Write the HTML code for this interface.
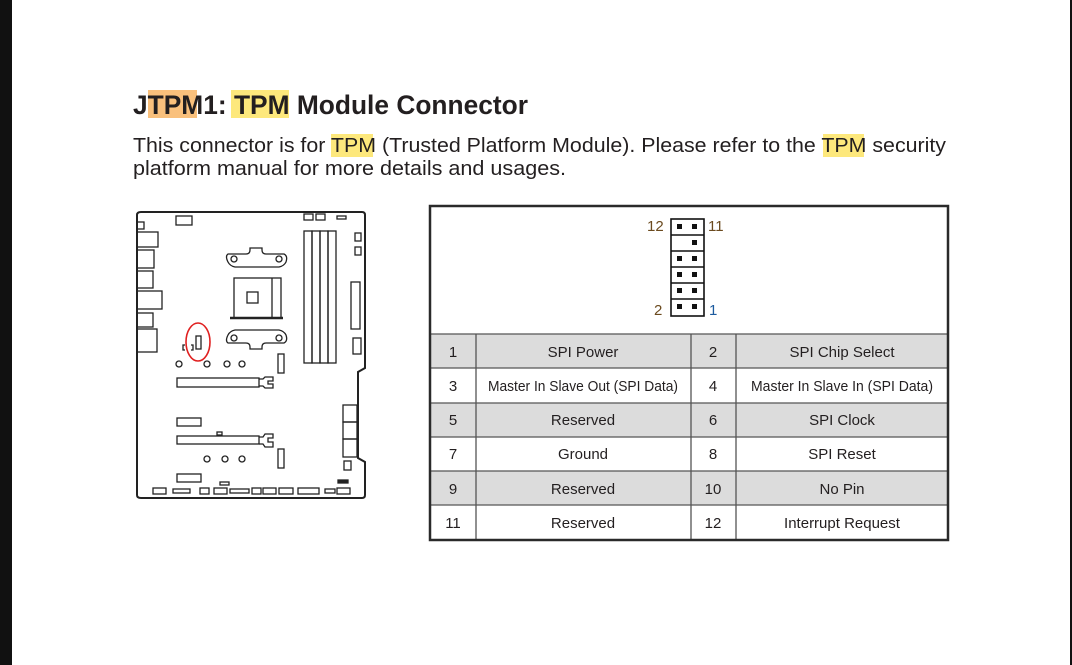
<!DOCTYPE html>
<html><head><meta charset="utf-8"><style>
html,body{margin:0;padding:0;background:#fff;width:1072px;height:665px;overflow:hidden}
svg{display:block}
text{font-family:"Liberation Sans",sans-serif;fill:#231f20}
</style></head><body>
<svg width="1072" height="665" viewBox="0 0 1072 665" xmlns="http://www.w3.org/2000/svg">
<rect x="0" y="0" width="12" height="665" fill="#111"/>
<rect x="1070" y="0" width="2" height="665" fill="#111"/>
<!-- highlights -->
<rect x="148" y="90" width="49" height="28" fill="#f9c07c"/>
<rect x="231" y="90" width="58" height="28" fill="#fde87c"/>
<rect x="331" y="134" width="42" height="23" fill="#fde87c"/>
<rect x="823" y="134" width="41" height="23" fill="#fde87c"/>
<text x="133" y="114" font-size="27" font-weight="bold" textLength="395" lengthAdjust="spacingAndGlyphs">JTPM1: TPM Module Connector</text>
<text x="133" y="152" font-size="20" textLength="813" lengthAdjust="spacingAndGlyphs">This connector is for TPM (Trusted Platform Module). Please refer to the TPM security</text>
<text x="133" y="175" font-size="20" textLength="433" lengthAdjust="spacingAndGlyphs">platform manual for more details and usages.</text>

<!-- motherboard -->
<g fill="none" stroke="#222" stroke-width="1.3">
<path d="M141,212 H362 Q365,212 365,215 V368 L358,372 V458 L365,462 V495 Q365,498 362,498 H141 Q137,498 137,495 V215 Q137,212 141,212 Z" stroke-width="2"/>
<rect x="176" y="216" width="16" height="9"/>
<rect x="304" y="214" width="9" height="6"/><rect x="316" y="214" width="9" height="6"/>
<rect x="337" y="216" width="9" height="3"/>
<rect x="137" y="222" width="7" height="7"/>
<rect x="137" y="232" width="21" height="15"/>
<rect x="137" y="250" width="17" height="18"/>
<rect x="137" y="271" width="16" height="17"/>
<rect x="137" y="291" width="25" height="18"/>
<rect x="137" y="313" width="16" height="14"/>
<rect x="137" y="329" width="20" height="23"/>
<rect x="304" y="231" width="8" height="132"/><rect x="312" y="231" width="8" height="132"/>
<rect x="320" y="231" width="8" height="132"/><rect x="328" y="231" width="8" height="132"/>
<rect x="355" y="233" width="6" height="8"/><rect x="355" y="247" width="6" height="8"/>
<rect x="351" y="282" width="9" height="47"/><rect x="353" y="338" width="8" height="16"/>
<rect x="234" y="278" width="47" height="40"/><rect x="247" y="292" width="11" height="11"/>
<line x1="272" y1="278" x2="272" y2="318"/>
<line x1="230" y1="318" x2="283" y2="318" stroke-width="2.5"/>
<path d="M228,254 Q225,256 228,262 Q230,266 235,267 H279 Q284,266 286,262 Q288,256 284,254 H266 Q262,254 262,250 V248 H250 V250 Q250,254 246,254 Z"/>
<circle cx="234" cy="259" r="3"/><circle cx="279" cy="259" r="3"/>
<path d="M228,343 Q225,341 228,335 Q230,331 235,330 H279 Q284,331 286,335 Q288,341 284,343 H266 Q262,343 262,347 V349 H250 V347 Q250,343 246,343 Z"/>
<circle cx="234" cy="338" r="3"/><circle cx="279" cy="338" r="3"/>
<rect x="196" y="336" width="5" height="13"/>
<path d="M185,345 h-2 v5 h2 M191,345 h2 v5 h-2"/>
<circle cx="179" cy="364" r="3"/><circle cx="207" cy="364" r="3"/><circle cx="227" cy="364" r="3"/><circle cx="242" cy="364" r="3"/>
<rect x="278" y="354" width="6" height="19"/>
<rect x="177" y="378" width="82" height="9"/>
<path d="M259,379 h4 l2,-2 h8 v4 h-5 v3 h5 v4 h-8 l-2,-2 h-4"/>
<rect x="177" y="418" width="24" height="8"/>
<rect x="217" y="432" width="5" height="3"/>
<rect x="177" y="436" width="82" height="8"/>
<path d="M259,437 h4 l2,-3 h8 v4 h-5 v4 h5 v5 h-8 l-2,-3 h-4"/>
<circle cx="207" cy="459" r="3"/><circle cx="225" cy="459" r="3"/><circle cx="242" cy="459" r="3"/>
<rect x="278" y="449" width="6" height="19"/>
<rect x="343" y="405" width="14" height="17"/><rect x="343" y="422" width="14" height="17"/><rect x="343" y="439" width="14" height="18"/>
<rect x="344" y="461" width="7" height="9"/>
<rect x="177" y="474" width="24" height="8"/>
<rect x="338" y="480" width="10" height="3" fill="#222"/>
<rect x="220" y="482" width="9" height="3"/>
<rect x="153" y="488" width="13" height="6"/><rect x="173" y="489" width="17" height="4"/>
<rect x="200" y="488" width="9" height="6"/><rect x="214" y="488" width="13" height="6"/>
<rect x="230" y="489" width="19" height="4"/><rect x="252" y="488" width="9" height="6"/>
<rect x="263" y="488" width="13" height="6"/><rect x="279" y="488" width="14" height="6"/>
<rect x="298" y="488" width="21" height="6"/><rect x="325" y="489" width="10" height="4"/>
<rect x="337" y="488" width="13" height="6"/>
</g>
<ellipse cx="198" cy="342" rx="12" ry="19" fill="none" stroke="#e02020" stroke-width="1.6"/>

<!-- table -->
<g>
<rect x="430" y="334" width="518" height="34" fill="#dcdcdc"/>
<rect x="430" y="403" width="518" height="34" fill="#dcdcdc"/>
<rect x="430" y="471" width="518" height="34" fill="#dcdcdc"/>
<g stroke="#555" stroke-width="1.3">
<line x1="430" y1="334" x2="948" y2="334"/><line x1="430" y1="368" x2="948" y2="368"/>
<line x1="430" y1="403" x2="948" y2="403"/><line x1="430" y1="437" x2="948" y2="437"/>
<line x1="430" y1="471" x2="948" y2="471"/><line x1="430" y1="505" x2="948" y2="505"/>
<line x1="476" y1="334" x2="476" y2="540"/><line x1="691" y1="334" x2="691" y2="540"/>
<line x1="736" y1="334" x2="736" y2="540"/>
</g>
<rect x="430" y="206" width="518" height="334" fill="none" stroke="#2a2a2a" stroke-width="2.5"/>
</g>
<g font-size="15" text-anchor="middle">
<text x="453" y="357">1</text><text x="583" y="357">SPI Power</text><text x="713" y="357">2</text><text x="842" y="357">SPI Chip Select</text>
<text x="453" y="391">3</text><text x="583" y="391" textLength="190" lengthAdjust="spacingAndGlyphs">Master In Slave Out (SPI Data)</text><text x="713" y="391">4</text><text x="842" y="391" textLength="182" lengthAdjust="spacingAndGlyphs">Master In Slave In (SPI Data)</text>
<text x="453" y="425">5</text><text x="583" y="425">Reserved</text><text x="713" y="425">6</text><text x="842" y="425">SPI Clock</text>
<text x="453" y="459">7</text><text x="583" y="459">Ground</text><text x="713" y="459">8</text><text x="842" y="459">SPI Reset</text>
<text x="453" y="494">9</text><text x="583" y="494">Reserved</text><text x="713" y="494">10</text><text x="842" y="494">No Pin</text>
<text x="453" y="528">11</text><text x="583" y="528">Reserved</text><text x="713" y="528">12</text><text x="842" y="528">Interrupt Request</text>
</g>
<!-- pin header -->
<g fill="none" stroke="#111" stroke-width="1.6">
<rect x="671" y="219" width="33" height="97"/>
<line x1="671" y1="235" x2="704" y2="235"/><line x1="671" y1="251" x2="704" y2="251"/>
<line x1="671" y1="267" x2="704" y2="267"/><line x1="671" y1="283" x2="704" y2="283"/>
<line x1="671" y1="299" x2="704" y2="299"/>
</g>
<g fill="#111">
<rect x="677" y="224" width="5" height="5"/><rect x="692" y="224" width="5" height="5"/>
<rect x="692" y="240" width="5" height="5"/>
<rect x="677" y="256" width="5" height="5"/><rect x="692" y="256" width="5" height="5"/>
<rect x="677" y="272" width="5" height="5"/><rect x="692" y="272" width="5" height="5"/>
<rect x="677" y="288" width="5" height="5"/><rect x="692" y="288" width="5" height="5"/>
<rect x="677" y="304" width="5" height="5"/><rect x="692" y="304" width="5" height="5"/>
</g>
<g font-size="15">
<text x="647" y="231" style="fill:#6b4a1e">12</text>
<text x="708" y="231" style="fill:#6b4a1e">11</text>
<text x="654" y="315" style="fill:#6b4a1e">2</text>
<text x="709" y="315" style="fill:#1c5a9e">1</text>
</g>
</svg>
</body></html>
